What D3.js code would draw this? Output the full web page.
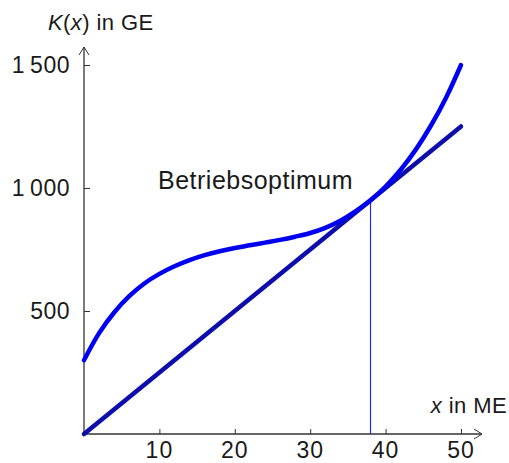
<!DOCTYPE html>
<html><head><meta charset="utf-8">
<script src="https://cdn.jsdelivr.net/npm/d3@7"></script>
<style>
html,body{margin:0;padding:0;background:#fff;}
svg{display:block;}
text{font-family:"Liberation Sans",Arial,Helvetica,sans-serif;fill:#1a1a1a;}
</style></head>
<body>
<svg id="chart" width="509" height="463"></svg>
<script>
// data
const costX = [0,2,4,6,8,10,12,14,16,18,20,22,24,26,28,30,32,34,36,38,40,42,44,46,48,50];
const costK = [300,410,494,560,612,651,682,707,727,743,756,767,778,789,802,817,838,867,905,950,1006,1074,1156,1253,1366,1500];
const lineX = [0,50];
const lineK = [0,1250];
const optimumX = 38;
const optimumK = 950;
const xTicks = [10,20,30,40,50];
const yTicks = [500,1000,1500];
const yTickLabels = ["500","1\u2009000","1\u2009500"];

const svg = d3.select("#chart");
const x = d3.scaleLinear().domain([0,50]).range([84,461]);
const y = d3.scaleLinear().domain([0,1500]).range([434,65]);

const axisColor = "#333";

// x axis
const xAxis = svg.append("g").attr("transform","translate(0,434)")
  .call(d3.axisTop(x).tickValues(xTicks).tickSize(5).tickFormat(""));
xAxis.select(".domain").remove();
xAxis.selectAll("line").attr("stroke",axisColor).attr("stroke-width",1);
svg.append("line").attr("x1",x(0)).attr("x2",482).attr("y1",434).attr("y2",434)
  .attr("stroke",axisColor).attr("stroke-width",1.3);
svg.append("path").attr("d","M474,429 L482,434 L474,439").attr("fill","none")
  .attr("stroke",axisColor).attr("stroke-width",1);
svg.selectAll("text.xt").data(xTicks).enter().append("text").attr("class","xt")
  .attr("x",d=>x(d)).attr("y",458).attr("text-anchor","middle")
  .style("font-size","23px").style("letter-spacing","1px").text(d=>d);

// y axis
const yAxis = svg.append("g").attr("transform","translate(84,0)")
  .call(d3.axisRight(y).tickValues(yTicks).tickSize(6).tickFormat(""));
yAxis.select(".domain").remove();
yAxis.selectAll("line").attr("stroke",axisColor).attr("stroke-width",1);
svg.append("line").attr("x1",84).attr("x2",84).attr("y1",434).attr("y2",47)
  .attr("stroke",axisColor).attr("stroke-width",1.3);
svg.append("path").attr("d","M79,55 L84,47 L89,55").attr("fill","none")
  .attr("stroke",axisColor).attr("stroke-width",1);
svg.selectAll("text.yt").data(yTicks).enter().append("text").attr("class","yt")
  .attr("x",70).attr("y",d=>y(d)+8).attr("text-anchor","end")
  .style("font-size","23px").style("letter-spacing","0.5px").text((d,i)=>yTickLabels[i]);

// axis titles
const yt = svg.append("text").attr("x",48).attr("y",30).style("font-size","22px").style("letter-spacing","0.4px");
yt.append("tspan").style("font-style","italic").text("K");
yt.append("tspan").text("(");
yt.append("tspan").style("font-style","italic").text("x");
yt.append("tspan").text(") in GE");
const xt = svg.append("text").attr("x",507).attr("y",413).attr("text-anchor","end").style("font-size","22px").style("letter-spacing","0.4px");
xt.append("tspan").style("font-style","italic").text("x");
xt.append("tspan").text(" in ME");

// vertical line at optimum
svg.append("line").attr("x1",x(optimumX)).attr("x2",x(optimumX))
  .attr("y1",y(0)).attr("y2",y(optimumK))
  .attr("stroke","#2a2ad0").attr("stroke-width",1.2);

// tangent line
svg.append("path").datum(d3.zip(lineX,lineK))
  .attr("d",d3.line().x(d=>x(d[0])).y(d=>y(d[1])))
  .attr("fill","none").attr("stroke","#0d0dab").attr("stroke-width",4.5)
  .attr("stroke-linecap","round");

// cost curve
svg.append("path").datum(d3.zip(costX,costK))
  .attr("d",d3.line().curve(d3.curveCatmullRom).x(d=>x(d[0])).y(d=>y(d[1])))
  .attr("fill","none").attr("stroke","#0000f0").attr("stroke-width",4.5)
  .attr("stroke-linecap","round");

// label
svg.append("text").attr("x",158).attr("y",189).style("font-size","25px").style("letter-spacing","0.5px").text("Betriebsoptimum");
</script>
</body></html>
